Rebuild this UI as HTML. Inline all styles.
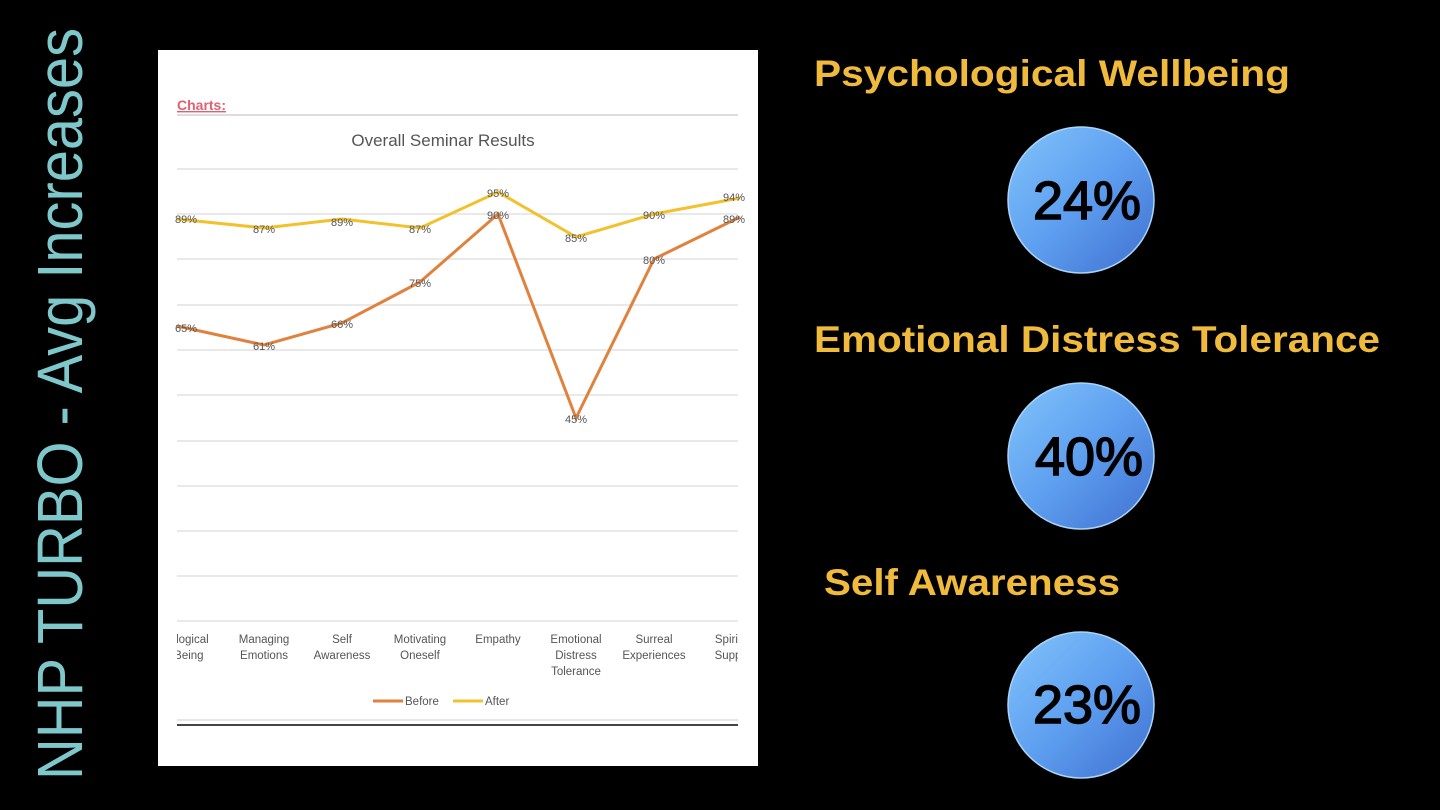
<!DOCTYPE html>
<html><head><meta charset="utf-8"><style>
html,body{margin:0;padding:0;background:#000;width:1440px;height:810px;overflow:hidden}
svg{display:block}
</style></head><body>
<svg width="1440" height="810" viewBox="0 0 1440 810" xmlns="http://www.w3.org/2000/svg" font-family="Liberation Sans, sans-serif">
<defs>
<linearGradient id="cg" x1="0" y1="0" x2="1" y2="1">
<stop offset="0" stop-color="#82c4fb"/><stop offset="0.5" stop-color="#5e9ff0"/><stop offset="1" stop-color="#3f6fcf"/>
</linearGradient>
</defs>
<rect width="1440" height="810" fill="#000"/>
<text transform="translate(82,780) rotate(-90)" font-size="64" fill="#7ec8cc" textLength="752" lengthAdjust="spacingAndGlyphs">NHP TURBO - Avg Increases</text>
<rect x="158" y="50" width="600" height="716" fill="#fff"/>
<text x="177" y="110" font-size="14" font-weight="bold" fill="#e06070" text-decoration="underline">Charts:</text>
<line x1="177" y1="115" x2="738" y2="115" stroke="#ddd" stroke-width="2"/>
<text x="443" y="146" font-size="17" fill="#555" text-anchor="middle">Overall Seminar Results</text>
<g stroke="#e2e2e2" stroke-width="1.5">
<line x1="177" y1="169" x2="738" y2="169"/><line x1="177" y1="214" x2="738" y2="214"/>
<line x1="177" y1="259" x2="738" y2="259"/><line x1="177" y1="305" x2="738" y2="305"/>
<line x1="177" y1="350" x2="738" y2="350"/><line x1="177" y1="395" x2="738" y2="395"/>
<line x1="177" y1="441" x2="738" y2="441"/><line x1="177" y1="486" x2="738" y2="486"/>
<line x1="177" y1="531" x2="738" y2="531"/><line x1="177" y1="576" x2="738" y2="576"/>
<line x1="177" y1="621" x2="738" y2="621"/>
</g>
<polyline fill="none" stroke="#f2c12e" stroke-width="3" points="177,219 264,228 342,219 420,228 498,192 576,237 654,214 740,198"/>
<polyline fill="none" stroke="#e0823d" stroke-width="3" points="177,326 264,345 342,323 420,282 498,214 576,418 654,259 740,217"/>
<g font-size="11" fill="#555" text-anchor="middle">
<text x="186" y="223">89%</text><text x="264" y="233">87%</text><text x="342" y="226">89%</text><text x="420" y="233">87%</text>
<text x="498" y="197">95%</text><text x="576" y="242">85%</text><text x="654" y="219">90%</text><text x="734" y="201">94%</text>
<text x="186" y="332">65%</text><text x="264" y="350">61%</text><text x="342" y="328">66%</text><text x="420" y="287">75%</text>
<text x="498" y="219">90%</text><text x="576" y="423">45%</text><text x="654" y="264">80%</text><text x="734" y="223">89%</text>
</g>
<g font-size="11.5" fill="#555" text-anchor="middle">
<text x="186" y="643">hological</text><text x="186" y="659">l Being</text>
<text x="264" y="643">Managing</text><text x="264" y="659">Emotions</text>
<text x="342" y="643">Self</text><text x="342" y="659">Awareness</text>
<text x="420" y="643">Motivating</text><text x="420" y="659">Oneself</text>
<text x="498" y="643">Empathy</text>
<text x="576" y="643">Emotional</text><text x="576" y="659">Distress</text><text x="576" y="675">Tolerance</text>
<text x="654" y="643">Surreal</text><text x="654" y="659">Experiences</text>
<text x="728" y="643">Spirit</text><text x="728" y="659">Supp</text>
</g>
<rect x="738" y="620" width="20" height="70" fill="#fff"/>
<rect x="158" y="620" width="19" height="70" fill="#fff"/>
<line x1="373" y1="701" x2="403" y2="701" stroke="#e0823d" stroke-width="3"/>
<text x="405" y="705" font-size="11.5" fill="#555">Before</text>
<line x1="453" y1="701" x2="483" y2="701" stroke="#f2c12e" stroke-width="3"/>
<text x="485" y="705" font-size="11.5" fill="#555">After</text>
<line x1="177" y1="720" x2="738" y2="720" stroke="#ddd" stroke-width="1.5"/>
<line x1="177" y1="725" x2="738" y2="725" stroke="#444" stroke-width="2"/>
<g font-weight="bold" fill="#f0bb3c" font-size="37">
<text x="814" y="86" textLength="476" lengthAdjust="spacingAndGlyphs">Psychological Wellbeing</text>
<text x="814" y="352" textLength="566" lengthAdjust="spacingAndGlyphs">Emotional Distress Tolerance</text>
<text x="824" y="595" textLength="296" lengthAdjust="spacingAndGlyphs">Self Awareness</text>
</g>
<g fill="url(#cg)" stroke="#a8d4f8" stroke-width="1.5">
<circle cx="1081" cy="200" r="73"/>
<circle cx="1081" cy="456" r="73"/>
<circle cx="1081" cy="705" r="73"/>
</g>
<g font-size="54" fill="#000" stroke="#000" stroke-width="1.5" text-anchor="middle" font-family="Liberation Sans, sans-serif">
<text x="1087" y="219">24%</text>
<text x="1089" y="475">40%</text>
<text x="1087" y="723">23%</text>
</g>
</svg>
</body></html>
